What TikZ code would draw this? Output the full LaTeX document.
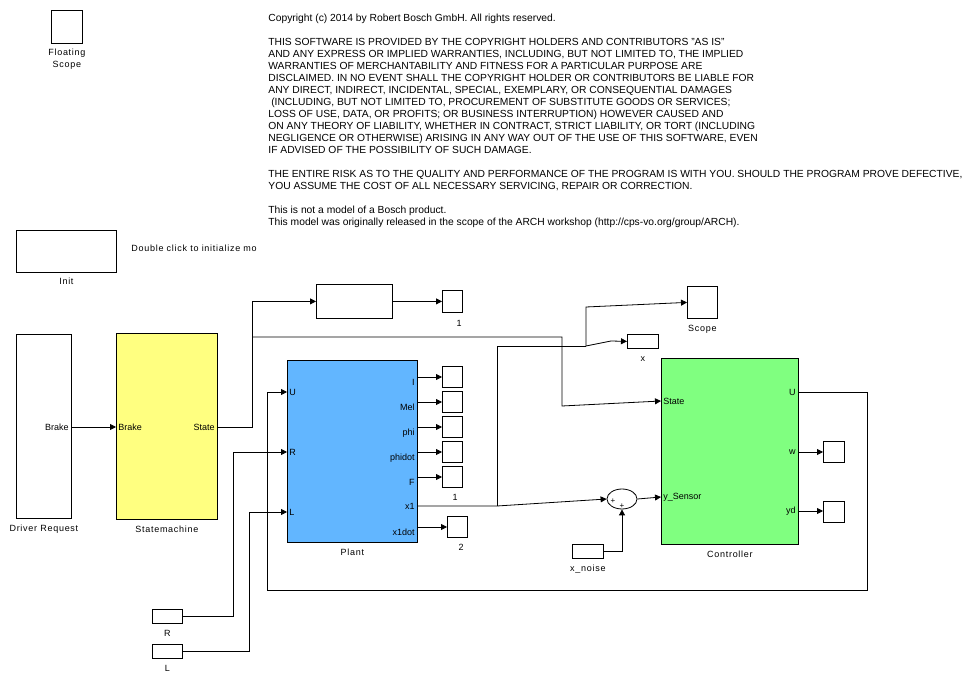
\documentclass[tikz,border=0pt]{standalone}
\usepackage{fontspec}
\setmainfont{Liberation Sans}
\newfontfamily\spacedsans[LetterSpace=8]{Liberation Sans}
\usetikzlibrary{arrows.meta,positioning,shapes.geometric}
\definecolor{SmYellow}{HTML}{FFFF80}
\definecolor{PlantBlue}{HTML}{62B6FF}
\definecolor{CtrlGreen}{HTML}{80FF80}

\begin{document}
\begin{tikzpicture}[x=1pt,y=-1pt,line width=0.8pt,
    every node/.style={font=\fontsize{9}{11}\selectfont,inner sep=0pt},
    blk/.style={draw,anchor=north west},
    blkname/.style={font=\spacedsans\fontsize{9}{12}\selectfont,align=center},
    portin/.style={anchor=west,inner xsep=2pt},
    portout/.style={anchor=east,inner xsep=2pt},
    portdown/.style={anchor=north east,inner xsep=2pt,inner ysep=1.5pt},
    sig/.style={-{Triangle[length=6pt,width=6pt]}}]
    \useasboundingbox (0,0) rectangle (970,684);
    % blocks
    \node[blk,minimum width=31pt,minimum height=33pt] (fscope) at (51,10) {};
    \node[blkname,below=5pt of fscope] (fscopeName) {Floating\\Scope};
    \node[blk,minimum width=100pt,minimum height=42pt] (init) at (16,230) {};
    \node[blkname,below=5pt of init] (initName) {Init};
    \node[blkname,anchor=west] (initNote) at (131,248) {Double click to initialize mo};
    \node[anchor=north west,align=left,font=\fontsize{10.3}{12}\selectfont] (legal) at (268,14) {%
      Copyright (c) 2014 by Robert Bosch GmbH. All rights reserved.\\[12pt]
      THIS SOFTWARE IS PROVIDED BY THE COPYRIGHT HOLDERS AND CONTRIBUTORS "AS IS"\\
      AND ANY EXPRESS OR IMPLIED WARRANTIES, INCLUDING, BUT NOT LIMITED TO, THE IMPLIED\\
      WARRANTIES OF MERCHANTABILITY AND FITNESS FOR A PARTICULAR PURPOSE ARE\\
      DISCLAIMED. IN NO EVENT SHALL THE COPYRIGHT HOLDER OR CONTRIBUTORS BE LIABLE FOR\\
      ANY DIRECT, INDIRECT, INCIDENTAL, SPECIAL, EXEMPLARY, OR CONSEQUENTIAL DAMAGES\\
      \ (INCLUDING, BUT NOT LIMITED TO, PROCUREMENT OF SUBSTITUTE GOODS OR SERVICES;\\
      LOSS OF USE, DATA, OR PROFITS; OR BUSINESS INTERRUPTION) HOWEVER CAUSED AND\\
      ON ANY THEORY OF LIABILITY, WHETHER IN CONTRACT, STRICT LIABILITY, OR TORT (INCLUDING\\
      NEGLIGENCE OR OTHERWISE) ARISING IN ANY WAY OUT OF THE USE OF THIS SOFTWARE, EVEN\\
      IF ADVISED OF THE POSSIBILITY OF SUCH DAMAGE.\\[12pt]
      THE ENTIRE RISK AS TO THE QUALITY AND PERFORMANCE OF THE PROGRAM IS WITH YOU. SHOULD THE PROGRAM PROVE DEFECTIVE,\\
      YOU ASSUME THE COST OF ALL NECESSARY SERVICING, REPAIR OR CORRECTION.\\[12pt]
      This is not a model of a Bosch product.\\
      This model was originally released in the scope of the ARCH workshop (http://cps-vo.org/group/ARCH).};

    \node[blk,minimum width=55pt,minimum height=184pt] (driver) at (16,334) {};
    \node[blkname,below=6pt of driver] (driverName) {Driver Request};
    \node[portout] (drvBrake) at (71,427) {Brake};
    \node[blk,fill=SmYellow,minimum width=101pt,minimum height=186pt] (statem) at (116,333) {};
    \node[blkname,below=6pt of statem] (statemName) {Statemachine};
    \node[portin] (smBrake) at (116,427) {Brake};
    \node[portout] (smState) at (217,427) {State};

    \node[blk,minimum width=76pt,minimum height=34pt] (topblk) at (316,284) {};
    \node[blk,minimum width=20pt,minimum height=22pt] (out1) at (442,290) {};
    \node (out1Num) at (459,323) {1};

    \node[blk,fill=PlantBlue,minimum width=130pt,minimum height=182pt] (plant) at (287,360) {};
    \node[blkname,below=6pt of plant] (plantName) {Plant};
    \node[portin] (plU) at (287,392) {U};
    \node[portin] (plR) at (287,452) {R};
    \node[portin] (plL) at (287,512) {L};
    \node[portdown] (plI) at (417,377) {I};
    \node[portdown] (plMel) at (417,402) {Mel};
    \node[portdown] (plPhi) at (417,427) {phi};
    \node[portdown] (plPhidot) at (417,452) {phidot};
    \node[portdown] (plF) at (417,477) {F};
    \node[portout] (plX1) at (417,506) {x1};
    \node[portdown] (plX1dot) at (417,527) {x1dot};
    \node[blk,minimum width=20pt,minimum height=21pt] (sI) at (442,366) {};
    \node[blk,minimum width=20pt,minimum height=21pt] (sMel) at (442,391) {};
    \node[blk,minimum width=20pt,minimum height=21pt] (sPhi) at (442,416) {};
    \node[blk,minimum width=20pt,minimum height=21pt] (sPhidot) at (442,441) {};
    \node[blk,minimum width=20pt,minimum height=21pt] (sF) at (442,466) {};
    \node (sFNum) at (455,497) {1};
    \node[blk,minimum width=20pt,minimum height=21pt] (sX1dot) at (447,516) {};
    \node (sX1dotNum) at (461,547) {2};

    \node[blk,minimum width=30pt,minimum height=32pt] (scope) at (687,286) {};
    \node[blkname,below=6pt of scope] (scopeName) {Scope};
    \node[blk,minimum width=31pt,minimum height=14pt] (gotoX) at (627,334) {};
    \node[below=8pt of gotoX] (gotoXName) {x};

    \node[blk,fill=CtrlGreen,minimum width=137pt,minimum height=186pt] (ctrl) at (661,358) {};
    \node[blkname,below=6pt of ctrl] (ctrlName) {Controller};
    \node[portin] (ctState) at (661,401) {State};
    \node[portin] (ctYs) at (661,497) {y\_Sensor};
    \node[portout] (ctU) at (798,392) {U};
    \node[portout] (ctW) at (798,452) {w};
    \node[portout] (ctYd) at (798,511) {yd};
    \node[blk,minimum width=21pt,minimum height=21pt] (sW) at (823,441) {};
    \node[blk,minimum width=21pt,minimum height=21pt] (sYd) at (823,501) {};

    \node[draw,ellipse,minimum width=30pt,minimum height=20pt] (sum) at (622,499) {};
    \node[font=\fontsize{8}{8}\selectfont] (sumA) at (613,501) {+};
    \node[font=\fontsize{8}{8}\selectfont] (sumB) at (622,506) {+};
    \node[blk,minimum width=31pt,minimum height=14pt] (noise) at (572,544) {};
    \node[blkname,below=6pt of noise] (noiseName) {x\_noise};

    \node[blk,minimum width=30pt,minimum height=14pt] (constR) at (152,609) {};
    \node[blkname,below=6pt of constR] (constRName) {R};
    \node[blk,minimum width=30pt,minimum height=14pt] (constL) at (152,644) {};
    \node[blkname,below=6pt of constL] (constLName) {L};

    % signals
    \coordinate (stBr) at (252,337);
    \coordinate (x1Br) at (497,506);
    \coordinate (xBr) at (586,346);
    \coordinate (rBend) at (233,616);
    \coordinate (lBend) at (249,651);
    \draw[sig] (drvBrake.east) -- (smBrake.west);
    \draw[sig] (smState.east) -- (252,427) |- (topblk.west);
    \draw[sig] (stBr) -- (562,337) -- (562,406) -- (ctState.west);
    \draw[sig] (topblk.east) -- (topblk.east -| out1.west);
    \draw[sig] (plI.north east) -- (plI.north east -| sI.west);
    \draw[sig] (plMel.north east) -- (plMel.north east -| sMel.west);
    \draw[sig] (plPhi.north east) -- (plPhi.north east -| sPhi.west);
    \draw[sig] (plPhidot.north east) -- (plPhidot.north east -| sPhidot.west);
    \draw[sig] (plF.north east) -- (plF.north east -| sF.west);
    \draw[sig] (plX1dot.north east) -- (plX1dot.north east -| sX1dot.west);
    \draw[sig] (plX1.east) -- (x1Br) -- (sum.west);
    \draw (x1Br) |- (xBr);
    \draw[sig] (xBr) -- (586,307) -- (scope.west);
    \draw[sig] (xBr) -- (611,341) -- (gotoX.west);
    \draw[sig] (noise.east) -| (sum.south);
    \draw[sig] (sum.east) -- (ctYs.west);
    \draw[sig] (ctU.east) -- (867,392) |- (267,590) |- (plU.west);
    \draw[sig] (ctW.east) -- (ctW.east -| sW.west);
    \draw[sig] (ctYd.east) -- (ctYd.east -| sYd.west);
    \draw[sig] (constR.east) -- (constR.east -| rBend) |- (plR.west);
    \draw[sig] (constL.east) -- (constL.east -| lBend) |- (plL.west);
  \end{tikzpicture}
\end{document}
